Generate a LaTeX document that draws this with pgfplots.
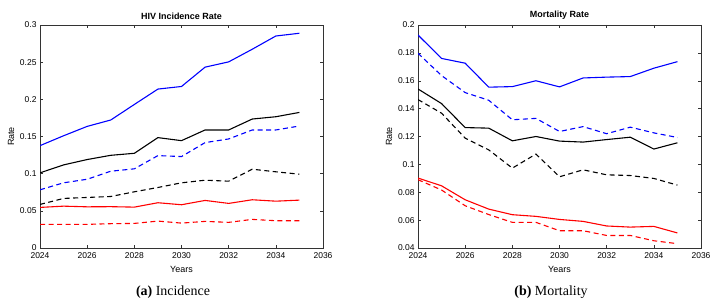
\documentclass[border=0pt]{standalone}
\usepackage{fontspec}
\setmainfont{Liberation Serif}
\setsansfont{Liberation Sans}
\usepackage{pgfplots}
\pgfplotsset{compat=1.18}
\definecolor{mblue}{RGB}{0,0,255}
\definecolor{mred}{RGB}{255,0,0}
\pgfplotsset{
  mstyle/.style={
    scale only axis, width=283bp, height=223bp,
    xmin=2024, xmax=2036, xtick={2024,2026,...,2036},
    tick align=inside, tick pos=both,
    major tick length=3bp,
    axis line style={line width=0.6pt, black!80},
    every tick/.style={black!80, line width=0.5pt},
    tick label style={font=\sffamily\fontsize{8.5}{9}\selectfont},
    label style={font=\sffamily\fontsize{9}{10}\selectfont},
    title style={font=\sffamily\bfseries\fontsize{9}{10}\selectfont, yshift=-4bp},
    /pgf/number format/assume math mode=true,
    xticklabel style={/pgf/number format/1000 sep={}, yshift=-1.5bp},
    xlabel={Years}, ylabel={Rate},
    xlabel style={yshift=0bp},
    ylabel style={yshift=-1bp},
    every axis plot/.append style={line width=1.1pt, mark=none},
  },
  sol/.style={solid},
  dsh/.style={dash pattern=on 5bp off 3.5bp},
}
\begin{document}
\begin{tikzpicture}[x=1bp,y=1bp]
\useasboundingbox (0,0) rectangle (719,304);
\begin{axis}[mstyle, at={(40bp,56bp)}, anchor=south west,
  ymin=0, ymax=0.3, ytick={0,0.05,0.1,0.15,0.2,0.25,0.3},
  yticklabels={0,0.05,0.1,0.15,0.2,0.25,0.3},
  title={HIV Incidence Rate}]
\addplot[mblue, sol] coordinates {(2024,0.1377)(2025,0.151)(2026,0.1636)(2027,0.1722)(2028,0.1931)(2029,0.2138)(2030,0.2173)(2031,0.2433)(2032,0.2504)(2033,0.2674)(2034,0.2852)(2035,0.2889)};
\addplot[black, sol] coordinates {(2024,0.1011)(2025,0.1118)(2026,0.119)(2027,0.1247)(2028,0.1274)(2029,0.1485)(2030,0.1444)(2031,0.1588)(2032,0.1588)(2033,0.1735)(2034,0.1766)(2035,0.1824)};
\addplot[mblue, dsh] coordinates {(2024,0.0783)(2025,0.0877)(2026,0.0925)(2027,0.1033)(2028,0.1065)(2029,0.1243)(2030,0.123)(2031,0.1418)(2032,0.1467)(2033,0.1588)(2034,0.1588)(2035,0.1641)};
\addplot[black, dsh] coordinates {(2024,0.0586)(2025,0.0667)(2026,0.068)(2027,0.0693)(2028,0.0756)(2029,0.0814)(2030,0.0877)(2031,0.0912)(2032,0.0899)(2033,0.106)(2034,0.1025)(2035,0.0993)};
\addplot[mred, sol] coordinates {(2024,0.0546)(2025,0.0563)(2026,0.0554)(2027,0.0556)(2028,0.055)(2029,0.0609)(2030,0.0582)(2031,0.064)(2032,0.06)(2033,0.0649)(2034,0.063)(2035,0.0644)};
\addplot[mred, dsh] coordinates {(2024,0.0318)(2025,0.0318)(2026,0.0318)(2027,0.0327)(2028,0.0331)(2029,0.0362)(2030,0.0335)(2031,0.0358)(2032,0.0345)(2033,0.0385)(2034,0.0367)(2035,0.0367)};
\end{axis}
\begin{axis}[mstyle, at={(418bp,56bp)}, anchor=south west,
  ymin=0.04, ymax=0.2, ytick={0.04,0.06,...,0.2},
  yticklabels={0.04,0.06,0.08,0.1,0.12,0.14,0.16,0.18,0.2},
  title={Mortality Rate}]
\addplot[mblue, sol] coordinates {(2024,0.1928)(2025,0.176)(2026,0.1726)(2027,0.1554)(2028,0.1558)(2029,0.160)(2030,0.1556)(2031,0.162)(2032,0.1626)(2033,0.163)(2034,0.169)(2035,0.1737)};
\addplot[mblue, dsh] coordinates {(2024,0.1797)(2025,0.1637)(2026,0.1515)(2027,0.146)(2028,0.132)(2029,0.133)(2030,0.1236)(2031,0.1271)(2032,0.122)(2033,0.1267)(2034,0.1226)(2035,0.1193)};
\addplot[black, sol] coordinates {(2024,0.1541)(2025,0.1436)(2026,0.1264)(2027,0.126)(2028,0.1169)(2029,0.120)(2030,0.1167)(2031,0.116)(2032,0.1178)(2033,0.1195)(2034,0.111)(2035,0.1155)};
\addplot[black, dsh] coordinates {(2024,0.1465)(2025,0.1367)(2026,0.1188)(2027,0.1104)(2028,0.0973)(2029,0.1074)(2030,0.0911)(2031,0.0961)(2032,0.0925)(2033,0.092)(2034,0.0899)(2035,0.0851)};
\addplot[mred, sol] coordinates {(2024,0.0902)(2025,0.0846)(2026,0.0746)(2027,0.0679)(2028,0.0639)(2029,0.0627)(2030,0.0605)(2031,0.0591)(2032,0.0558)(2033,0.055)(2034,0.0555)(2035,0.0508)};
\addplot[mred, dsh] coordinates {(2024,0.089)(2025,0.0816)(2026,0.0703)(2027,0.064)(2028,0.0584)(2029,0.0584)(2030,0.0524)(2031,0.0524)(2032,0.049)(2033,0.049)(2034,0.0452)(2035,0.0431)};
\end{axis}
\node[font=\fontsize{14}{16}\selectfont] at (173,12) {\textbf{(a)} Incidence};
\node[font=\fontsize{14}{16}\selectfont] at (551,12) {\textbf{(b)} Mortality};
\end{tikzpicture}
\end{document}
